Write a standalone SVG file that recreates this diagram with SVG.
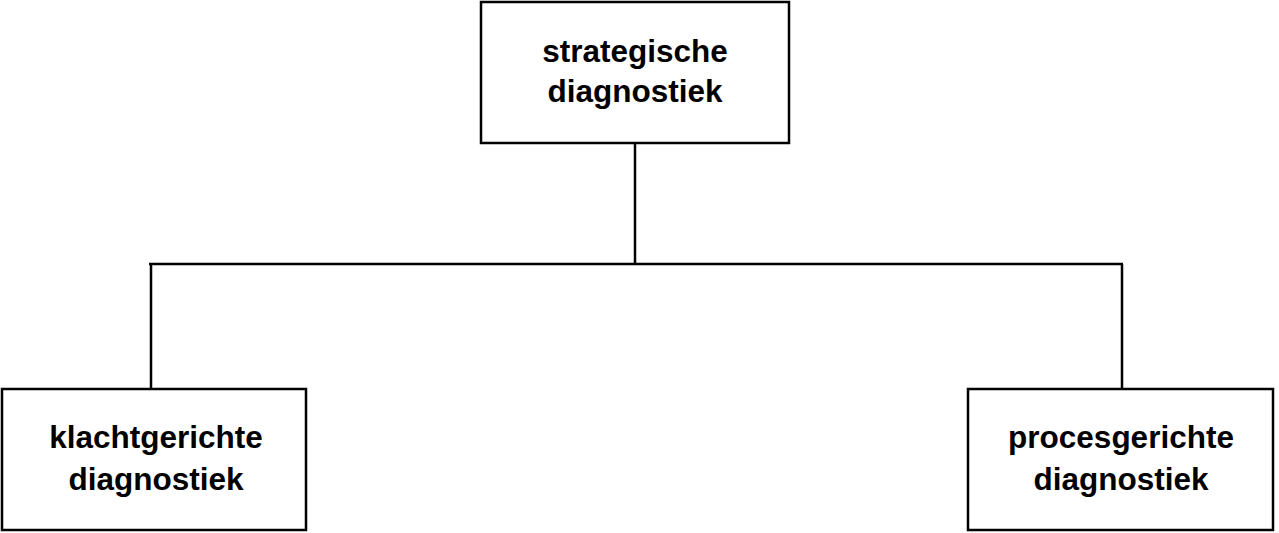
<svg xmlns="http://www.w3.org/2000/svg" width="1279" height="533" viewBox="0 0 1279 533">
<style>
.box{fill:#fff;stroke:#000;stroke-width:2.5}
.conn{fill:none;stroke:#000;stroke-width:2.5}
.lbl{font-family:"Liberation Sans",Arial,sans-serif;font-weight:bold;font-size:31.5px;fill:#000;text-anchor:middle}
</style>
<rect width="1279" height="533" fill="#fff"/>
<g id="connectors">
<path class="conn" d="M635,143 V264 M149,264 H1123 M151,264 V389 M1122,264 V389"/>
</g>
<g id="node-strategische">
<rect class="box" x="481" y="2" width="308" height="141"/>
<text class="lbl" x="635" y="62">strategische</text>
<text class="lbl" x="635" y="102">diagnostiek</text>
</g>
<g id="node-klachtgerichte">
<rect class="box" x="2" y="389" width="304" height="141"/>
<text class="lbl" x="156" y="448">klachtgerichte</text>
<text class="lbl" x="156" y="490">diagnostiek</text>
</g>
<g id="node-procesgerichte">
<rect class="box" x="968" y="389" width="305" height="141"/>
<text class="lbl" x="1121" y="448">procesgerichte</text>
<text class="lbl" x="1121" y="490">diagnostiek</text>
</g>
</svg>
